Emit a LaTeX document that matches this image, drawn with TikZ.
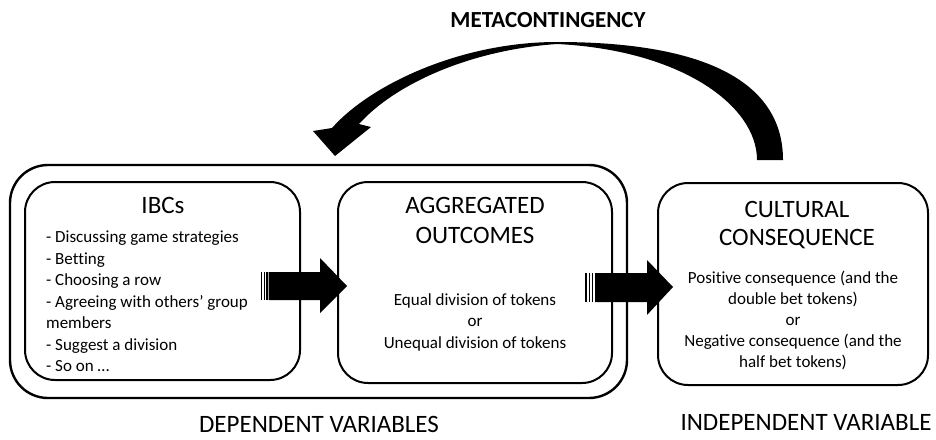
\documentclass[tikz,border=0pt]{standalone}
\usepackage{fontspec}
\setmainfont{Carlito}[Ligatures=NoCommon]
\begin{document}
\begin{tikzpicture}[x=1pt,y=-1pt,
  box/.style={draw, line width=2pt, rounded corners=30pt, inner sep=0pt, outer sep=0pt},
  title/.style={font=\fontsize{25}{30}\selectfont, align=center, inner sep=0pt},
  body/.style={font=\fontsize{17}{21.5}\selectfont, inner sep=0pt},
  stripe/.style={line width=1.3pt},
]
\useasboundingbox (0,0) rectangle (936,439);

% boxes
\node[box, line width=2.4pt, rounded corners=38pt, minimum width=617pt, minimum height=233pt] (grp) at (318.5,281.5) {};
\node[box, minimum width=275pt, minimum height=198pt] (ibc) at (162.5,281) {};
\node[box, minimum width=274pt, minimum height=201pt] (agg) at (475,282.5) {};
\node[box, minimum width=270pt, minimum height=202pt] (cul) at (793,284) {};

% texts
\node[title] (ibct) at (163,205) {IBCs};
\node[body, align=left, anchor=north west] (ibcb) at (46,231) {- Discussing game strategies\\- Betting\\- Choosing a row\\- Agreeing with others’ group\\members\\- Suggest a division\\- So on \dots};

\node[title] (aggt) at (475,220) {AGGREGATED\\OUTCOMES};
\node[body, align=center] (aggb) at (475,322) {Equal division of tokens\\or\\Unequal division of tokens};

\node[title, font=\fontsize{25}{28}\selectfont] (cult) at (797,225) {CULTURAL\\CONSEQUENCE};
\node[body, align=center, font=\fontsize{17}{21}\selectfont] (culb) at (793,320) {Positive consequence (and the\\double bet tokens)\\or\\Negative consequence (and the\\half bet tokens)};

\node[font=\fontsize{23}{27}\selectfont\bfseries, inner sep=0pt] (meta) at (548,20) {METACONTINGENCY};
\node[title] (dep) at (319,424.5) {DEPENDENT VARIABLES};
\node[title] (indep) at (806,422) {INDEPENDENT VARIABLE};

% block arrow IBCs -> aggregated
\draw[stripe] (261.5,272) -- (261.5,300) (264.2,272) -- (264.2,300) (266.9,272) -- (266.9,300);
\fill (268.5,272) -- (320,272) -- (320,258) -- (347,286) -- (320,313) -- (320,300) -- (268.5,300) -- cycle;

% block arrow aggregated -> cultural
\draw[stripe] (586,273) -- (586,302) (589.3,273) -- (589.3,302) (592.6,273) -- (592.6,302);
\fill (595,273) -- (647,273) -- (647,260) -- (673,287) -- (647,315) -- (647,302) -- (595,302) -- cycle;

% curved metacontingency arrow
\fill (783,160) .. controls (783,90) and (720,42) .. (557,42)
  .. controls (460,42) and (370,85) .. (332,128)
  -- (313,131) -- (335,156) -- (371,127) -- (359,124)
  .. controls (395,84) and (470,50) .. (557,44)
  .. controls (680,50) and (757,105) .. (757,160) -- cycle;
\end{tikzpicture}
\end{document}
